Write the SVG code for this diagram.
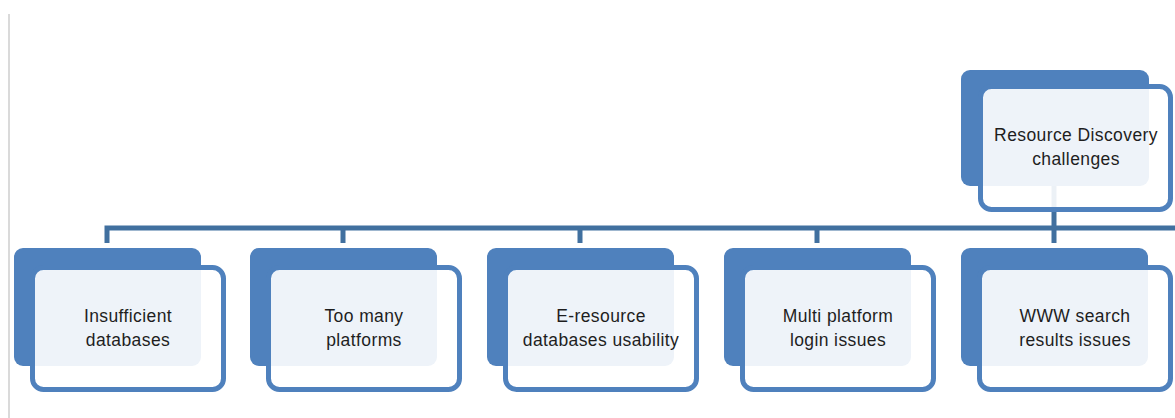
<svg xmlns="http://www.w3.org/2000/svg" width="1175" height="418" viewBox="0 0 1175 418">
<style>
.back{fill:#4F81BD}
.front{fill:#FFFFFF;fill-opacity:0.9;stroke:#4F81BD;stroke-width:5}
.lbl{font-family:"Liberation Sans",Arial,sans-serif;font-size:17.5px;letter-spacing:0.4px;fill:#1E1E1E;text-anchor:middle}
.conn{fill:none;stroke:#41709F;stroke-width:5;stroke-linejoin:miter;stroke-linecap:butt}
</style>
<rect width="1175" height="418" fill="#FFFFFF"/>
<line x1="9" y1="14" x2="9" y2="418" stroke="#DADADA" stroke-width="2"/>
<g id="connectors">
<path class="conn" d="M107 243 V228 H1175"/>
<path class="conn" d="M343 228 V243 M580 228 V243 M817 228 V243 M1054 228 V243"/>
<path class="conn" d="M1054 186 V228"/>
</g>
<g id="node-root">
<rect class="back" x="961" y="70" width="188" height="116" rx="9"/>
<rect class="front" x="980.5" y="86.5" width="190" height="123" rx="11"/>
<text class="lbl" x="1076" y="141">Resource Discovery</text>
<text class="lbl" x="1076" y="165">challenges</text>
</g>
<g id="node-1">
<rect class="back" x="14" y="248" width="187" height="118" rx="9"/>
<rect class="front" x="32.5" y="267.5" width="191" height="122" rx="11"/>
<text class="lbl" x="128" y="322">Insufficient</text>
<text class="lbl" x="128" y="346">databases</text>
</g>
<g id="node-2">
<rect class="back" x="250" y="248" width="187" height="118" rx="9"/>
<rect class="front" x="268.5" y="267.5" width="191" height="122" rx="11"/>
<text class="lbl" x="364" y="322">Too many</text>
<text class="lbl" x="364" y="346">platforms</text>
</g>
<g id="node-3">
<rect class="back" x="487" y="248" width="187" height="118" rx="9"/>
<rect class="front" x="505.5" y="267.5" width="191" height="122" rx="11"/>
<text class="lbl" x="601" y="322">E-resource</text>
<text class="lbl" x="601" y="346">databases usability</text>
</g>
<g id="node-4">
<rect class="back" x="724" y="248" width="187" height="118" rx="9"/>
<rect class="front" x="742.5" y="267.5" width="191" height="122" rx="11"/>
<text class="lbl" x="838" y="322">Multi platform</text>
<text class="lbl" x="838" y="346">login issues</text>
</g>
<g id="node-5">
<rect class="back" x="961" y="248" width="187" height="118" rx="9"/>
<rect class="front" x="979.5" y="267.5" width="191" height="122" rx="11"/>
<text class="lbl" x="1075" y="322">WWW search</text>
<text class="lbl" x="1075" y="346">results issues</text>
</g>
</svg>
